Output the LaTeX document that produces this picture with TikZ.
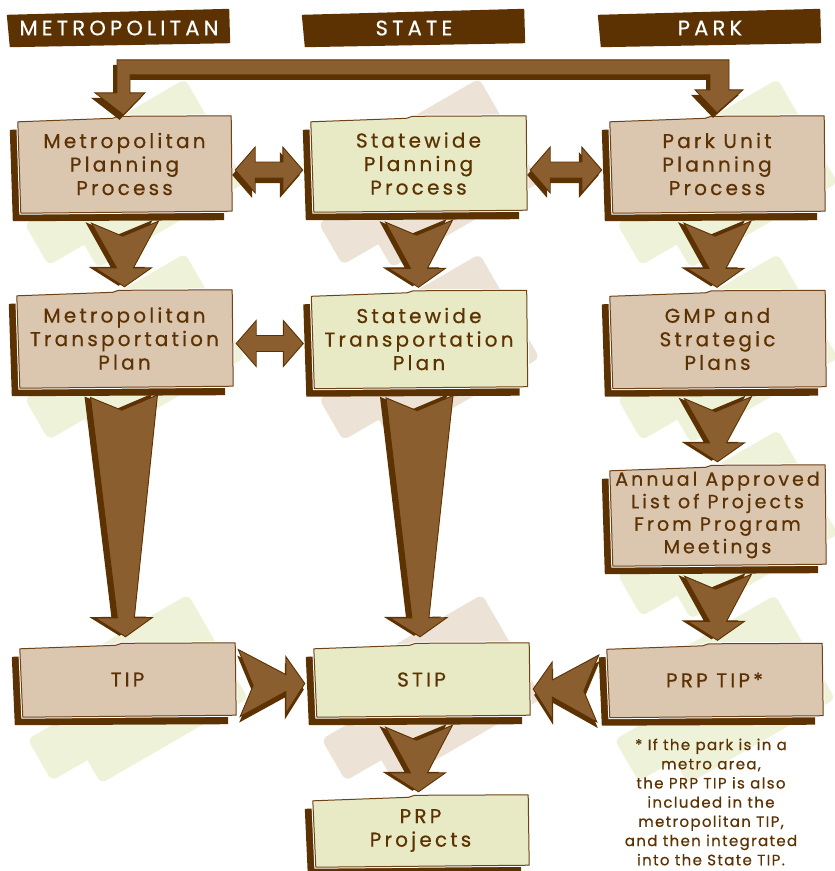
\documentclass[tikz,border=0pt]{standalone}
\usepackage{fontspec}
\setmainfont{Poppins}
\newfontfamily\cardfont{Poppins}[LetterSpace=16, FakeBold=0.6]
\newfontfamily\headfont{Poppins}[LetterSpace=20, FakeBold=0.5]
\newfontfamily\notefont{Poppins}[LetterSpace=9, FakeBold=0.5]
\usetikzlibrary{calc}

\pgfdeclarelayer{sheet}
\pgfdeclarelayer{card}
\pgfsetlayers{sheet,card,main}

\definecolor{darkbrown}{HTML}{5C3202}
\definecolor{arrowbrown}{HTML}{8B5E30}
\definecolor{edgebrown}{HTML}{6E4318}
\definecolor{tancard}{HTML}{DBC6B0}
\definecolor{limecard}{HTML}{E7EAC4}
\definecolor{limesheet}{HTML}{EEF2D8}
\definecolor{beigesheet}{HTML}{ECE2D6}

\tikzset{
  cardtext/.style={rectangle, inner sep=0pt, align=center, text=darkbrown,
    font=\cardfont\fontsize{20}{23.5}\selectfont},
  headtext/.style={rectangle, inner sep=0pt, minimum width=222, minimum height=36,
    text=white, font=\headfont\fontsize{21}{21}\selectfont},
  notetext/.style={align=center, inner sep=0pt, text=darkbrown,
    font=\notefont\fontsize{15}{19.2}\selectfont},
  arrowbody/.style={fill=arrowbrown, draw=darkbrown, line width=0.9pt, line join=miter},
  arrowshade/.style={fill=darkbrown},
}

% two tilted paper sheets behind a card
\newcommand\sheets[2]{%
  \begin{pgfonlayer}{sheet}
    \fill[#2, rounded corners=6pt, shift={($(#1.center)+(17,9.5)$)}, rotate=30]
      (-85,-60) rectangle (85,60);
    \fill[#2, rounded corners=6pt, shift={($(#1.center)+(3,28)$)}, rotate=30]
      (-105,-24) rectangle (105,24);
  \end{pgfonlayer}}

% card: dark drop shadow plus a slightly crooked front panel
\newcommand\card[2]{%
  \begin{pgfonlayer}{card}
    \fill[darkbrown] ($(#1.north west)+(-8,14)$) -- ($(#1.north east)+(-8,8)$)
      -- ($(#1.south east)+(-7,8)$) -- ($(#1.south west)+(-5,9)$) -- cycle;
    \filldraw[fill=#2, draw=edgebrown, line width=1pt, line join=round,
      preaction={draw=white, line width=3pt}]
      ($(#1.north west)+(0,6)$) -- ($(#1.north)+(-12,2.5)$) -- ($(#1.north)+(-6,0.5)$)
      -- (#1.north east) -- ($(#1.south east)+(1,-1)$) -- ($(#1.south west)+(3,1)$) -- cycle;
  \end{pgfonlayer}}

% column heading bar
\newcommand\headbar[1]{%
  \begin{pgfonlayer}{card}
    \fill[darkbrown] ($(#1.north west)+(-1,5)$) -- ($(#1.north east)+(-1,-1)$)
      -- ($(#1.south east)+(0,-3)$) -- ($(#1.south west)+(2,1)$) -- cycle;
  \end{pgfonlayer}}

% chevron block arrow from tail #2 to tip #3
\newcommand\chevshape{(0,33) -- (13,2) -- (-2,-34) -- (\chevlen-19,-9) -- (\chevlen-19,-27)
  -- (\chevlen,0) -- (\chevlen-19,30) -- (\chevlen-19,8) -- cycle}
\newcommand\chevron[3][]{%
  \path let \p1=(#2), \p2=(#3) in \pgfextra{%
    \pgfmathsetmacro\chevangtmp{atan2((\y2)-(\y1),(\x2)-(\x1))}%
    \pgfmathsetmacro\chevlentmp{veclen((\x2)-(\x1),(\y2)-(\y1))}%
    \xdef\chevang{\chevangtmp}\xdef\chevlen{\chevlentmp}};
  \begin{scope}[shift={(#2)}, rotate=\chevang, #1]
    \fill[arrowshade, shift={(-1,6)}] \chevshape;
    \filldraw[arrowbody] \chevshape;
  \end{scope}}

% double-headed horizontal arrow between tips #1 and #2
\newcommand\dblshape[2]{(#1) -- ($(#1)+(20,-23)$) -- ($(#1)+(20,-8)$) -- ($(#2)+(-20,-8)$)
  -- ($(#2)+(-20,-23)$) -- (#2) -- ($(#2)+(-20,23)$) -- ($(#2)+(-20,8)$)
  -- ($(#1)+(20,8)$) -- ($(#1)+(20,23)$) -- cycle}

\begin{document}
\begin{tikzpicture}[x=1pt, y=-1pt]
\useasboundingbox (0,0) rectangle (835,871);
\begin{pgfonlayer}{sheet}
  \fill[white] (0,0) rectangle (835,871);
\end{pgfonlayer}

% column headings
\node[headtext] (hmet) at (119,28) {METROPOLITAN};
\node[headtext] (hsta) at (414,28) {STATE};
\node[headtext] (hpar) at (710,28) {PARK};
\headbar{hmet}\headbar{hsta}\headbar{hpar}

% cards
\node[cardtext, minimum width=213, minimum height=96] (mpp) at (124.5,164) {Metropolitan\\Planning\\Process};
\node[cardtext, minimum width=215, minimum height=95] (spp) at (418.5,163.5) {Statewide\\Planning\\Process};
\node[cardtext, minimum width=214, minimum height=96] (pup) at (717,164) {Park Unit\\Planning\\Process};
\node[cardtext, minimum width=215, minimum height=97] (mtp) at (124.5,338.5) {Metropolitan\\Transportation\\Plan};
\node[cardtext, minimum width=215, minimum height=97] (stp) at (419,339) {Statewide\\Transportation\\Plan};
\node[cardtext, minimum width=215, minimum height=97] (gmp) at (717.5,339) {GMP and\\Strategic\\Plans};
\node[cardtext, minimum width=215, minimum height=100, font=\cardfont\fontsize{19}{22.5}\selectfont] (aal) at (717.5,515) {Annual Approved\\List of Projects\\From Program\\Meetings};
\node[cardtext, minimum width=215, minimum height=73] (tip) at (127.5,679.5) {TIP};
\node[cardtext, minimum width=215, minimum height=73] (stip) at (421.5,679.5) {STIP};
\node[cardtext, minimum width=215, minimum height=73] (prp) at (714.5,680) {PRP TIP*};
\node[cardtext, minimum width=215, minimum height=71] (proj) at (420.5,830.5) {PRP\\Projects};

\node[notetext] (note) at (711,802) {* If the park is in a\\metro area,\\the PRP TIP is also\\included in the\\metropolitan TIP,\\and then integrated\\into the State TIP.};

\foreach \n in {mpp,mtp,tip,pup,gmp,aal,prp} {\sheets{\n}{limesheet}}
\foreach \n in {spp,stp,stip} {\sheets{\n}{beigesheet}}
\foreach \n in {mpp,mtp,tip,pup,gmp,aal,prp} {\card{\n}{tancard}}
\foreach \n in {spp,stp,stip,proj} {\card{\n}{limecard}}

% bracket arrow joining the metropolitan and park planning processes
\coordinate (bl) at ($(mpp.north)+(-1,-1)$);
\coordinate (br) at ($(pup.north)+(0,-3)$);
\newcommand\bracketshape{($(bl)+(-6.5,-55)$) -- ($(br)+(12,-53)$) -- ($(br)+(12,-23)$)
  -- ($(br)+(26,-23)$) -- (br) -- ($(br)+(-22,-23)$) -- ($(br)+(-7,-23)$) -- ($(br)+(-7,-38)$)
  -- ($(bl)+(6.5,-40)$) -- ($(bl)+(6.5,-22)$) -- ($(bl)+(21.5,-22)$) -- (bl)
  -- ($(bl)+(-28.5,-22)$) -- ($(bl)+(-6.5,-22)$) -- cycle}
\fill[arrowshade, transform canvas={shift={(-4pt,-5pt)}}] \bracketshape;
\filldraw[arrowbody] \bracketshape;

% double arrows between neighbouring processes and plans
\coordinate (dl1) at ($(mpp.east)+(4,6)$);
\coordinate (dr1) at ($(mpp.east -| spp.west)+(-8,6)$);
\coordinate (dl2) at ($(spp.east)+(4,6.5)$);
\coordinate (dr2) at ($(spp.east -| pup.west)+(-8,6.5)$);
\coordinate (dl3) at ($(mtp.east)+(4,5)$);
\coordinate (dr3) at ($(mtp.east -| stp.west)+(-8,5)$);
\fill[arrowshade, transform canvas={shift={(-3pt,-5pt)}}] \dblshape{dl1}{dr1};
\filldraw[arrowbody] \dblshape{dl1}{dr1};
\fill[arrowshade, transform canvas={shift={(-3pt,-5pt)}}] \dblshape{dl2}{dr2};
\filldraw[arrowbody] \dblshape{dl2}{dr2};
\filldraw[arrowbody] \dblshape{dl3}{dr3};

% downward flow
\coordinate (m1s) at ($(mpp.south)+(0,11)$);
\coordinate (m1e) at ($(mpp.south |- mtp.north)+(0,-3)$);
\coordinate (s1s) at ($(spp.south)+(0,11)$);
\coordinate (s1e) at ($(spp.south |- stp.north)+(0,-3)$);
\coordinate (p1s) at ($(pup.south)+(0,11)$);
\coordinate (p1e) at ($(pup.south |- gmp.north)+(0,-3)$);
\coordinate (p2s) at ($(gmp.south)+(0,11)$);
\coordinate (p2e) at ($(gmp.south |- aal.north)+(0,-3)$);
\coordinate (p3s) at ($(aal.south)+(0,11)$);
\coordinate (p3e) at ($(aal.south |- prp.north)+(0,-3)$);
\coordinate (s3s) at ($(stip.south)+(-3,11)$);
\coordinate (s3e) at ($(stip.south |- proj.north)+(-3,-3)$);
\coordinate (m2s) at ($(mtp.south)+(-1,10)$);
\coordinate (m2e) at ($(mtp.south |- tip.north)+(1,-6)$);
\coordinate (s2s) at ($(stp.south)+(0,10)$);
\coordinate (s2e) at ($(stp.south |- stip.north)+(1,-6)$);
\chevron{m1s}{m1e}
\chevron{s1s}{s1e}
\chevron{p1s}{p1e}
\chevron{p2s}{p2e}
\chevron{p3s}{p3e}
\chevron{s3s}{s3e}
\chevron{m2s}{m2e}
\chevron{s2s}{s2e}

% side inputs into the STIP
\coordinate (t1s) at ($(tip.east)+(5,4)$);
\coordinate (t1e) at ($(tip.east -| stip.west)+(-9,4)$);
\coordinate (t2s) at ($(prp.west)+(-10,9)$);
\coordinate (t2e) at ($(prp.west -| stip.east)+(4,9)$);
\chevron{t1s}{t1e}
\chevron[yscale=-1]{t2s}{t2e}
\end{tikzpicture}
\end{document}
